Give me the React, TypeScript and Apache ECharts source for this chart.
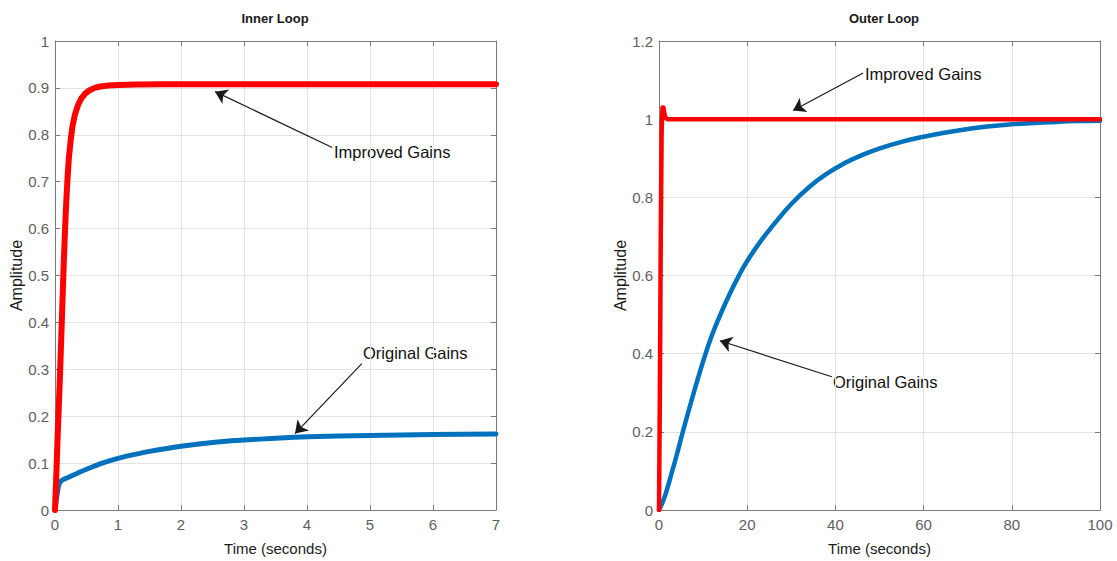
import React, { useEffect, useRef } from "react";
import * as echarts from "echarts";

// ---- Data ----
const innerImproved: [number, number][] = [
  [0, 0], [0.02, 0.07], [0.04, 0.15], [0.06, 0.22], [0.08, 0.29], [0.1, 0.37],
  [0.12, 0.45], [0.14, 0.53], [0.16, 0.6], [0.18, 0.66], [0.2, 0.71], [0.22, 0.75],
  [0.25, 0.79], [0.28, 0.82], [0.32, 0.845], [0.37, 0.865], [0.42, 0.878],
  [0.48, 0.888], [0.55, 0.895], [0.63, 0.9], [0.72, 0.903], [0.85, 0.905],
  [1.0, 0.906], [1.3, 0.907], [1.7, 0.908], [7, 0.908],
];
const innerOriginal: [number, number][] = [
  [0, 0], [0.03, 0.03], [0.06, 0.053], [0.1, 0.062], [0.2, 0.069], [0.35, 0.078],
  [0.5, 0.087], [0.75, 0.1], [1, 0.11], [1.25, 0.118], [1.5, 0.125], [2, 0.136],
  [2.5, 0.144], [3, 0.149], [3.5, 0.153], [4, 0.156], [5, 0.159], [6, 0.161], [7, 0.162],
];
const outerImproved: [number, number][] = [
  [0, 0], [0.2, 0.3], [0.4, 0.7], [0.6, 0.97], [0.8, 1.03], [1.0, 1.03],
  [1.2, 1.015], [1.5, 1.003], [2, 1.0], [100, 1.0],
];
const outerOriginal: [number, number][] = [
  [0, 0], [1, 0.025], [2, 0.06], [3, 0.1], [4, 0.14], [5, 0.183], [6, 0.225],
  [7, 0.265], [8, 0.305], [9, 0.343], [10, 0.38], [12, 0.447], [14, 0.502],
  [16, 0.552], [18, 0.597], [20, 0.637], [23, 0.687], [26, 0.73], [30, 0.783],
  [34, 0.826], [38, 0.86], [42, 0.887], [46, 0.908], [50, 0.925], [55, 0.942],
  [60, 0.955], [65, 0.966], [70, 0.975], [75, 0.982], [80, 0.987], [85, 0.99],
  [90, 0.993], [95, 0.995], [100, 0.996],
];

const titles = ["Inner Loop", "Outer Loop"];
const xName = "Time (seconds)";
const yName = "Amplitude";

// Annotation arrows in data coordinates: [from, to(tip)]
const innerImprovedArrow: [number, number][] = [[4.4, 0.773], [2.54, 0.892]];
const innerOriginalArrow: [number, number][] = [[4.87, 0.312], [3.81, 0.163]];
const outerImprovedArrow: [number, number][] = [[46.3, 1.118], [30.4, 1.022]];
const outerOriginalArrow: [number, number][] = [[39.2, 0.341], [13.8, 0.433]];

const RED = "#ff0000";
const BLUE = "#0072bd";
const FONT = "'Liberation Sans', Arial, Helvetica, sans-serif";
const AXIS_COLOR = "#7a7a7a";
const TICK_LABEL = "#5e5e5e";

function arrowMarkLine(a: [number, number][]) {
  return {
    silent: true,
    symbol: ["none", "arrow"],
    symbolSize: 12,
    label: { show: false },
    lineStyle: { color: "#1a1a1a", width: 1.2, type: "solid" },
    itemStyle: { color: "#1a1a1a" },
    emphasis: { disabled: true },
    data: [[{ coord: a[0] }, { coord: a[1] }]],
  };
}

export default function App() {
  const ref = useRef<HTMLDivElement>(null);
  useEffect(() => {
    if (!ref.current) return;
    const chart = echarts.init(ref.current, undefined, { renderer: "svg" });

    const grids = [
      { left: 55, right: 621, top: 41, bottom: 49 },
      { left: 659, right: 17, top: 41, bottom: 49 },
    ];
    const xRanges = [
      { min: 0, max: 7, interval: 1 },
      { min: 0, max: 100, interval: 20 },
    ];
    const yRanges = [
      { min: 0, max: 1, interval: 0.1 },
      { min: 0, max: 1.2, interval: 0.2 },
    ];

    const xAxis: any[] = [];
    const yAxis: any[] = [];
    for (let g = 0; g < 2; g++) {
      xAxis.push({
        type: "value",
        gridIndex: g,
        ...xRanges[g],
        position: "bottom",
        name: xName,
        nameLocation: "middle",
        nameGap: 31,
        nameTextStyle: { color: "#1a1a1a", fontSize: 15, fontFamily: FONT },
        axisLine: { show: true, lineStyle: { color: AXIS_COLOR, width: 1 } },
        axisTick: { show: true, inside: true, length: 5, lineStyle: { color: AXIS_COLOR } },
        axisLabel: { color: TICK_LABEL, fontSize: 15, fontFamily: FONT, margin: 7 },
        splitLine: { show: true, lineStyle: { color: "#e3e3e3", width: 1 } },
      });
      xAxis.push({
        type: "value",
        gridIndex: g,
        ...xRanges[g],
        position: "top",
        axisLine: { show: true, onZero: false, lineStyle: { color: AXIS_COLOR, width: 1 } },
        axisTick: { show: true, inside: true, length: 5, lineStyle: { color: AXIS_COLOR } },
        axisLabel: { show: false },
        splitLine: { show: false },
      });
      yAxis.push({
        type: "value",
        gridIndex: g,
        ...yRanges[g],
        position: "left",
        name: yName,
        nameLocation: "middle",
        nameGap: 30,
        nameTextStyle: { color: "#1a1a1a", fontSize: 16, fontFamily: FONT },
        axisLine: { show: true, lineStyle: { color: AXIS_COLOR, width: 1 } },
        axisTick: { show: true, inside: true, length: 5, lineStyle: { color: AXIS_COLOR } },
        axisLabel: { color: TICK_LABEL, fontSize: 15, fontFamily: FONT, margin: 6 },
        splitLine: { show: true, lineStyle: { color: "#e3e3e3", width: 1 } },
      });
      yAxis.push({
        type: "value",
        gridIndex: g,
        ...yRanges[g],
        position: "right",
        axisLine: { show: true, onZero: false, lineStyle: { color: AXIS_COLOR, width: 1 } },
        axisTick: { show: true, inside: true, length: 5, lineStyle: { color: AXIS_COLOR } },
        axisLabel: { show: false },
        splitLine: { show: false },
      });
    }

    const lineSeries = (
      data: [number, number][],
      g: number,
      color: string,
      width: number,
      arrow: [number, number][],
      z: number,
      smooth: number | boolean
    ) => ({
      type: "line",
      xAxisIndex: g * 2,
      yAxisIndex: g * 2,
      data,
      showSymbol: false,
      smooth,
      z,
      lineStyle: { color, width, cap: "round", join: "round" },
      itemStyle: { color },
      markLine: arrowMarkLine(arrow),
    });

    chart.setOption({
      animation: false,
      backgroundColor: "#ffffff",
      title: [
        {
          text: titles[0],
          left: 270,
          top: 7,
          textAlign: "center",
          textStyle: { fontSize: 13, fontWeight: "bold", color: "#1a1a1a", fontFamily: FONT },
        },
        {
          text: titles[1],
          left: 879,
          top: 7,
          textAlign: "center",
          textStyle: { fontSize: 13, fontWeight: "bold", color: "#1a1a1a", fontFamily: FONT },
        },
      ],
      grid: grids,
      xAxis,
      yAxis,
      series: [
        lineSeries(innerOriginal, 0, BLUE, 5, innerOriginalArrow, 3, 0.3),
        lineSeries(innerImproved, 0, RED, 6, innerImprovedArrow, 4, false),
        lineSeries(outerOriginal, 1, BLUE, 4.5, outerOriginalArrow, 3, 0.5),
        lineSeries(outerImproved, 1, RED, 4.5, outerImprovedArrow, 4, false),
      ],
      graphic: [
        { type: "text", x: 334, y: 152, style: { text: "Improved Gains", fontSize: 16.5, fontFamily: FONT, fill: "#111", verticalAlign: "middle" } },
        { type: "text", x: 363, y: 353, style: { text: "Original Gains", fontSize: 16.5, fontFamily: FONT, fill: "#111", verticalAlign: "middle" } },
        { type: "text", x: 865, y: 74, style: { text: "Improved Gains", fontSize: 16.5, fontFamily: FONT, fill: "#111", verticalAlign: "middle" } },
        { type: "text", x: 833, y: 382, style: { text: "Original Gains", fontSize: 16.5, fontFamily: FONT, fill: "#111", verticalAlign: "middle" } },
      ],
    });
    return () => chart.dispose();
  }, []);

  return (
    <div
      ref={ref}
      style={{ position: "fixed", left: 0, top: 0, width: 1117, height: 561, background: "#fff" }}
    />
  );
}
